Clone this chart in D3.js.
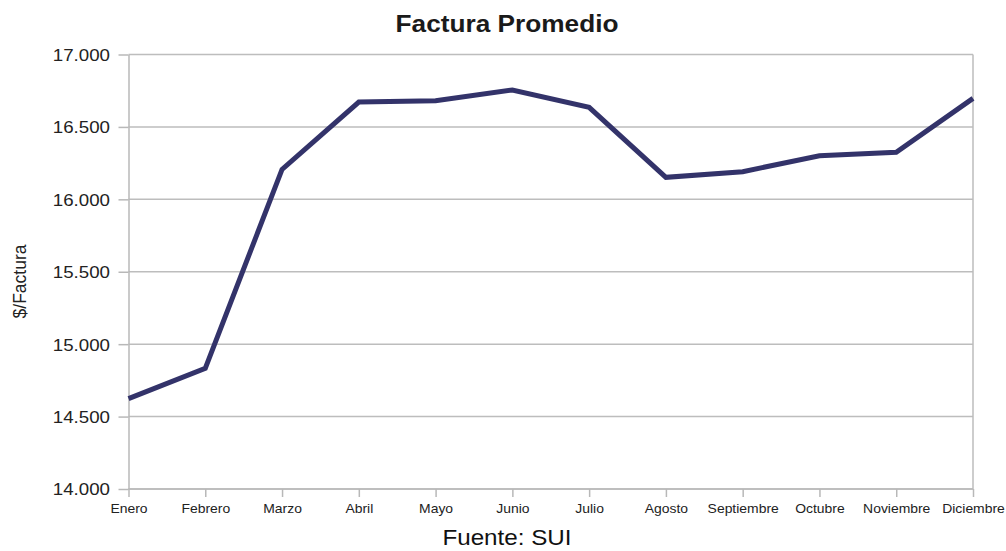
<!DOCTYPE html>
<html>
<head>
<meta charset="utf-8">
<script src="https://cdn.jsdelivr.net/npm/d3@7"></script>
<style>
  body { margin: 0; background: #fff; }
  svg { font-family: Arial, "Liberation Sans", sans-serif; }
  .axis path, .axis line { stroke: #b8b8b8; }
  .grid line { stroke: #bdbdbd; }
</style>
</head>
<body>
<svg id="chart"></svg>
<script>
// data
var months = ["Enero", "Febrero", "Marzo", "Abril", "Mayo", "Junio", "Julio",
  "Agosto", "Septiembre", "Octubre", "Noviembre", "Diciembre"];
var factura = [14624, 14833, 16207, 16672, 16681, 16755, 16635,
  16152, 16191, 16301, 16325, 16697];
var yTicks = [14000, 14500, 15000, 15500, 16000, 16500, 17000];

var W = 1006, H = 551;
var margin = { left: 128.5, right: 33, top: 54.5, bottom: 62 },
  width = W - margin.left - margin.right,
  height = H - margin.top - margin.bottom;

var svg = d3.select("#chart").attr("width", W).attr("height", H);
var g = svg.append("g").attr("transform", `translate(${margin.left},${margin.top})`);

var x = d3.scalePoint().domain(months).range([0, width]);
var y = d3.scaleLinear().domain([14000, 17000]).range([height, 0]);

// es-CO style thousands separator
var fmt = d => d3.format(",.0f")(d).replace(/,/g, ".");

// the original picture is a bit wider than tall, stretch text to match
function stretch(sel, k) {
  sel.each(function () {
    var len = this.getComputedTextLength();
    d3.select(this).attr("textLength", len * k).attr("lengthAdjust", "spacingAndGlyphs");
  });
}

// horizontal grid
g.append("g").attr("class", "grid")
  .selectAll("line")
  .data(yTicks)
  .enter()
  .append("line")
  .attr("x1", 0).attr("x2", width)
  .attr("y1", d => y(d)).attr("y2", d => y(d))
  .attr("stroke-width", 1.5);

// right border
g.append("line")
  .attr("x1", width).attr("x2", width)
  .attr("y1", 0).attr("y2", height)
  .attr("stroke", "#bdbdbd").attr("stroke-width", 1.5);

// y axis
var yAxis = g.append("g").attr("class", "axis")
  .call(d3.axisLeft(y).tickValues(yTicks).tickFormat(fmt).tickSize(10).tickSizeOuter(0));
yAxis.selectAll("path, line").attr("stroke-width", 1.5);
yAxis.selectAll("text")
  .attr("fill", "#222").style("font-size", "17px").attr("x", -18.5).attr("dy", "0.35em")
  .call(stretch, 1.1);

// x axis
var xAxis = g.append("g").attr("class", "axis")
  .attr("transform", `translate(0,${height})`)
  .call(d3.axisBottom(x).tickSize(8).tickSizeOuter(0));
xAxis.select("path").attr("d", `M0,0H${width}`);
xAxis.selectAll("path, line").attr("stroke-width", 1.5);
xAxis.selectAll("text")
  .attr("fill", "#222").style("font-size", "13px").attr("y", 15)
  .call(stretch, 1.07);

// the line
var line = d3.line()
  .x((d, i) => x(months[i]))
  .y(d => y(d));

g.append("path")
  .datum(factura)
  .attr("d", line)
  .attr("fill", "none")
  .attr("stroke", "#33336a")
  .attr("stroke-width", 5)
  .attr("stroke-linejoin", "miter")
  .attr("stroke-linecap", "butt");

// title
svg.append("text")
  .attr("x", 507).attr("y", 31.5)
  .attr("text-anchor", "middle")
  .style("font-size", "23px").style("font-weight", "bold")
  .attr("fill", "#1a1a1a")
  .text("Factura Promedio")
  .call(stretch, 1.14);

// y label
svg.append("text")
  .attr("transform", "translate(26,281.5) rotate(-90)")
  .attr("text-anchor", "middle")
  .style("font-size", "17.5px")
  .attr("fill", "#222")
  .text("$/Factura");

// source
svg.append("text")
  .attr("x", 507).attr("y", 545)
  .attr("text-anchor", "middle")
  .style("font-size", "22px")
  .attr("fill", "#111")
  .text("Fuente: SUI")
  .call(stretch, 1.1);
</script>
</body>
</html>
